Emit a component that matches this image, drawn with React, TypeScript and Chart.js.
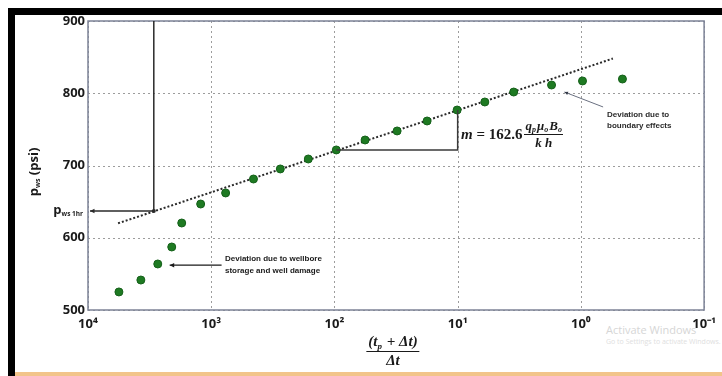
import React, { useEffect, useRef } from "react";
import { Chart, registerables } from "chart.js";

Chart.register(...registerables);

// ---- data ----
const hornerTime = [5610, 3724, 2715, 2091, 1735, 1218, 764, 454, 275, 163, 96.6, 56.4, 31, 17.7, 10.1, 6.02, 3.51, 1.73, 0.97, 0.46];
const pwsValues = [525, 541.5, 563.7, 587.2, 620.4, 646.7, 662, 681.3, 695.2, 709, 721.5, 735.3, 747.8, 761.6, 776.8, 787.9, 801.7, 811.4, 817, 819.7];
const trendX = [5700, 0.55];
const trendY = [620, 848];
const xTicks = [10000, 1000, 100, 10, 1, 0.1];
const xTickLabels = ["10⁴", "10³", "10²", "10¹", "10⁰", "10⁻¹"];
const yTicks = [500, 600, 700, 800, 900];
const pws1hr = { x: 2924, y: 637 };
const slopeStart = { x: 96.6, y: 721.5 };
const slopeEnd = { x: 10, y: 776.8 };
const wellboreArrow = { from: { x: 824, y: 562 }, to: { x: 2173, y: 562 } };
const boundaryArrow = { from: { x: 0.66, y: 781 }, to: { x: 1.36, y: 801.7 } };

function drawArrow(ctx: CanvasRenderingContext2D, x1: number, y1: number, x2: number, y2: number, size: number) {
  ctx.beginPath();
  ctx.moveTo(x1, y1);
  ctx.lineTo(x2, y2);
  ctx.stroke();
  const ang = Math.atan2(y2 - y1, x2 - x1);
  ctx.beginPath();
  ctx.moveTo(x2, y2);
  ctx.lineTo(x2 - size * Math.cos(ang - 0.45), y2 - size * Math.sin(ang - 0.45));
  ctx.lineTo(x2 - size * Math.cos(ang + 0.45), y2 - size * Math.sin(ang + 0.45));
  ctx.closePath();
  ctx.fill();
}

const overlayPlugin = {
  id: "hornerOverlay",
  beforeDatasetsDraw(chart: any) {
    const { ctx, chartArea: a, scales } = chart;
    const x = scales.x, y = scales.y;
    ctx.save();
    ctx.strokeStyle = "#9c9c9c";
    ctx.lineWidth = 1;
    ctx.setLineDash([2, 3]);
    for (const v of xTicks) {
      const px = Math.round(x.getPixelForValue(v)) + 0.5;
      ctx.beginPath();
      ctx.moveTo(px, a.top);
      ctx.lineTo(px, a.bottom);
      ctx.stroke();
    }
    for (const v of yTicks) {
      const py = Math.round(y.getPixelForValue(v)) + 0.5;
      ctx.beginPath();
      ctx.moveTo(a.left, py);
      ctx.lineTo(a.right, py);
      ctx.stroke();
    }
    ctx.setLineDash([]);
    ctx.strokeStyle = "#7c8296";
    ctx.lineWidth = 1.5;
    ctx.strokeRect(a.left, a.top, a.right - a.left, a.bottom - a.top);
    ctx.restore();
  },
  afterDatasetsDraw(chart: any) {
    const { ctx, chartArea: a, scales } = chart;
    const x = scales.x, y = scales.y;
    ctx.save();
    // p_ws 1hr construction
    ctx.strokeStyle = "#2a2a2a";
    ctx.fillStyle = "#2a2a2a";
    ctx.lineWidth = 1.5;
    const hx = x.getPixelForValue(pws1hr.x);
    const hy = y.getPixelForValue(pws1hr.y);
    ctx.beginPath();
    ctx.moveTo(hx, a.top);
    ctx.lineTo(hx, hy);
    ctx.stroke();
    drawArrow(ctx, hx, hy, a.left + 2, hy, 5);
    ctx.beginPath();
    ctx.arc(hx, hy, 2, 0, Math.PI * 2);
    ctx.fill();
    // slope triangle
    ctx.strokeStyle = "#3a3a3a";
    const sx1 = x.getPixelForValue(slopeStart.x);
    const sy1 = y.getPixelForValue(slopeStart.y);
    const sx2 = x.getPixelForValue(slopeEnd.x);
    const sy2 = y.getPixelForValue(slopeEnd.y);
    ctx.beginPath();
    ctx.moveTo(sx1, sy1);
    ctx.lineTo(sx2, sy1);
    ctx.lineTo(sx2, sy2);
    ctx.stroke();
    // wellbore storage arrow
    ctx.strokeStyle = "#1a1a1a";
    ctx.fillStyle = "#1a1a1a";
    ctx.lineWidth = 1.3;
    drawArrow(
      ctx,
      x.getPixelForValue(wellboreArrow.from.x), y.getPixelForValue(wellboreArrow.from.y),
      x.getPixelForValue(wellboreArrow.to.x), y.getPixelForValue(wellboreArrow.to.y),
      5
    );
    // boundary effects arrow
    ctx.strokeStyle = "#6a7080";
    ctx.fillStyle = "#333a48";
    ctx.lineWidth = 1;
    drawArrow(
      ctx,
      x.getPixelForValue(boundaryArrow.from.x), y.getPixelForValue(boundaryArrow.from.y),
      x.getPixelForValue(boundaryArrow.to.x), y.getPixelForValue(boundaryArrow.to.y),
      4
    );
    ctx.restore();
  },
};

export default function App() {
  const ref = useRef<HTMLCanvasElement>(null);

  useEffect(() => {
    if (!ref.current) return;
    const chart = new Chart(ref.current, {
      type: "scatter",
      data: {
        datasets: [
          {
            label: "p_ws",
            data: hornerTime.map((t, i) => ({ x: t, y: pwsValues[i] })),
            backgroundColor: "#1e7a22",
            borderColor: "#15601a",
            borderWidth: 1,
            pointRadius: 4,
          },
          {
            label: "trend",
            data: trendX.map((t, i) => ({ x: t, y: trendY[i] })),
            showLine: true,
            borderColor: "#2a2a2a",
            borderWidth: 2,
            borderDash: [2, 2],
            pointRadius: 0,
          },
        ],
      },
      options: {
        animation: false,
        responsive: false,
        devicePixelRatio: 1,
        layout: { padding: { top: 21, right: 16, left: 0, bottom: 0 } },
        plugins: { legend: { display: false }, tooltip: { enabled: false } },
        scales: {
          x: {
            type: "logarithmic",
            reverse: true,
            min: 0.1,
            max: 10000,
            grid: { display: false, drawTicks: false },
            border: { display: false },
            afterBuildTicks: (s: any) => {
              s.ticks = xTicks.map((v) => ({ value: v }));
            },
            afterFit: (s: any) => {
              s.height = 66;
            },
            ticks: {
              autoSkip: false,
              maxRotation: 0,
              padding: 6,
              color: "#1a1a1a",
              font: { family: "'Open Sans', sans-serif", size: 13, weight: "bold" },
              callback: (v: any) => {
                const i = xTicks.findIndex((t) => Math.abs(Math.log10(t) - Math.log10(Number(v))) < 1e-6);
                return i >= 0 ? xTickLabels[i] : "";
              },
            },
          },
          y: {
            type: "linear",
            min: 500,
            max: 900,
            grid: { display: false, drawTicks: false },
            border: { display: false },
            afterBuildTicks: (s: any) => {
              s.ticks = yTicks.map((v) => ({ value: v }));
            },
            afterFit: (s: any) => {
              s.width = 88;
            },
            ticks: {
              padding: 3,
              color: "#1a1a1a",
              font: { family: "'Open Sans', sans-serif", size: 13, weight: "bold" },
            },
          },
        },
      },
      plugins: [overlayPlugin],
    } as any);
    return () => chart.destroy();
  }, []);

  const serif = "'Liberation Serif', 'DejaVu Serif', serif";
  const sans = "'Open Sans', 'Liberation Sans', sans-serif";
  const sub = (size: number, mr = 0) =>
    ({ fontSize: size, lineHeight: 0, verticalAlign: "-0.3em", marginRight: mr } as React.CSSProperties);

  return (
    <div style={{ position: "fixed", left: 0, top: 0, width: 722, height: 376, overflow: "hidden", background: "#fff" }}>
      {/* watermark */}
      <div style={{ position: "absolute", left: 606, top: 322, color: "#d6d6d6", fontFamily: sans, fontSize: 11, whiteSpace: "nowrap" }}>
        Activate Windows
      </div>
      <div style={{ position: "absolute", left: 606, top: 337, color: "#e0e0e0", fontFamily: sans, fontSize: 7, whiteSpace: "nowrap" }}>
        Go to Settings to activate Windows.
      </div>
      <canvas ref={ref} width={722} height={376} style={{ position: "absolute", left: 0, top: 0, width: 722, height: 376 }} />

      {/* y-axis title */}
      <div
        style={{
          position: "absolute", left: 33, top: 172, transform: "translate(-50%, -50%) rotate(-90deg)",
          fontFamily: sans, fontSize: 13, fontWeight: 700, color: "#1a1a1a", whiteSpace: "nowrap", lineHeight: "16px",
        }}
      >
        p<span style={sub(7)}>ws</span> (psi)
      </div>

      {/* p_ws 1hr label */}
      <div
        style={{
          position: "absolute", right: 722 - 83, top: 201, fontFamily: sans, fontSize: 13, fontWeight: 700,
          color: "#1a1a1a", whiteSpace: "nowrap", lineHeight: "16px",
        }}
      >
        p<span style={sub(6.5)}>ws 1hr</span>
      </div>

      {/* slope formula */}
      <div
        style={{
          position: "absolute", left: 461, top: 119, display: "flex", alignItems: "center",
          fontFamily: serif, fontWeight: 700, color: "#1a1a1a", whiteSpace: "nowrap",
        }}
      >
        <span style={{ fontSize: 15 }}>
          <i>m</i> = 162.6
        </span>
        <span style={{ display: "inline-flex", flexDirection: "column", alignItems: "center", marginLeft: 2, fontStyle: "italic", fontSize: 13, lineHeight: "13px" }}>
          <span style={{ padding: "0 1px 2px" }}>
            q<span style={sub(8, 1)}>p</span>μ<span style={sub(8, 1)}>o</span>B<span style={sub(8)}>o</span>
          </span>
          <span style={{ borderTop: "1.5px solid #1a1a1a", alignSelf: "stretch", textAlign: "center", paddingTop: 1 }}>k h</span>
        </span>
      </div>

      {/* wellbore storage note */}
      <div
        style={{
          position: "absolute", left: 225, top: 253, fontFamily: "'Liberation Sans', Arial, sans-serif", fontSize: 8,
          fontWeight: 700, lineHeight: "12px", color: "#1a1a1a", whiteSpace: "nowrap",
        }}
      >
        Deviation due to wellbore
        <br />
        storage and well damage
      </div>

      {/* boundary effects note */}
      <div
        style={{
          position: "absolute", left: 607, top: 109, fontFamily: "'Liberation Sans', Arial, sans-serif", fontSize: 8,
          fontWeight: 700, lineHeight: "11px", color: "#2a2a2a", whiteSpace: "nowrap",
        }}
      >
        Deviation due to
        <br />
        boundary effects
      </div>

      {/* x-axis title (fraction) */}
      <div
        style={{
          position: "absolute", left: 393, top: 334, transform: "translateX(-50%)", display: "inline-flex",
          flexDirection: "column", alignItems: "center", fontFamily: serif, fontStyle: "italic", fontWeight: 700,
          fontSize: 15, lineHeight: "15px", color: "#1a1a1a", whiteSpace: "nowrap",
        }}
      >
        <span style={{ padding: "0 2px 2px" }}>
          (t<span style={sub(9, 1)}>p</span> + Δt)
        </span>
        <span style={{ borderTop: "1.5px solid #1a1a1a", alignSelf: "stretch", textAlign: "center", paddingTop: 1 }}>Δt</span>
      </div>

      {/* screenshot frame */}
      <div style={{ position: "absolute", left: 8, top: 8, width: 7, height: 368, background: "#000" }} />
      <div style={{ position: "absolute", left: 8, top: 8, width: 714, height: 7, background: "#000" }} />
      <div style={{ position: "absolute", left: 15, top: 372, width: 707, height: 4, background: "#f2c48a" }} />
    </div>
  );
}
